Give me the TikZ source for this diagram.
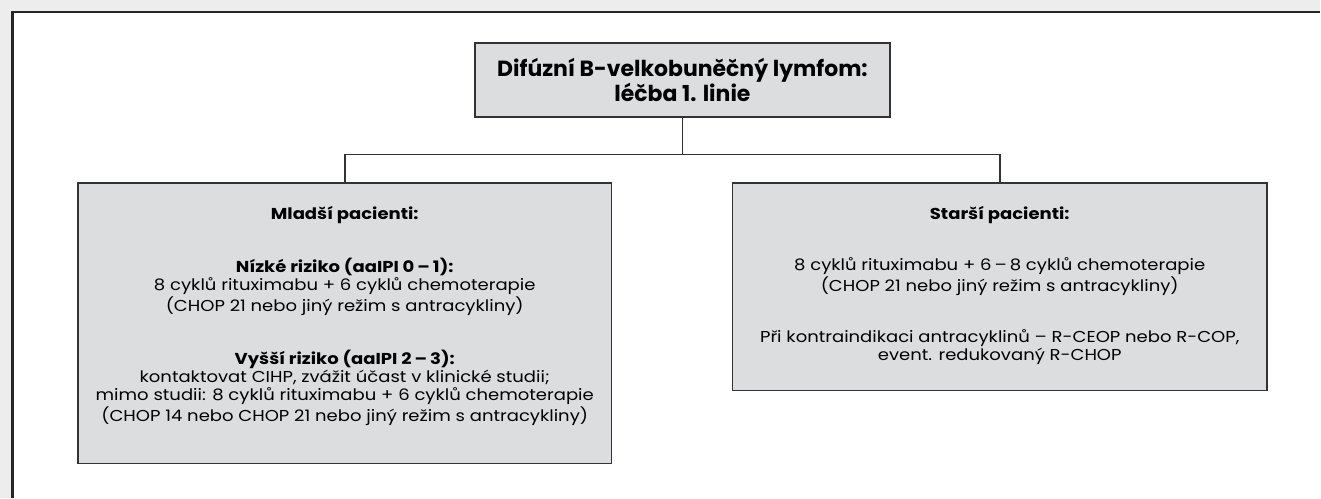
\documentclass[tikz,border=0pt]{standalone}
\usepackage{fontspec}
\setmainfont{Poppins}
\usetikzlibrary{positioning}
\definecolor{boxgray}{HTML}{DCDDDF}
\definecolor{pagegray}{HTML}{EDEDED}

\begin{document}
\begin{tikzpicture}[
  box/.style={rectangle,draw=black!80,line width=0.9pt,fill=boxgray,inner sep=0pt},
  stretchx/.style={xscale=#1,transform shape},
  boxtext/.style={align=center,inner sep=0pt,stretchx=1.14,font=\fontsize{9}{10.24}\selectfont},
  titletext/.style={align=center,inner sep=0pt,font=\bfseries\fontsize{12.5}{13.2}\selectfont},
  link/.style={draw=black!80,line width=0.9pt},
]
% page and frame
\fill[pagegray] (0,0) rectangle (26.42,-9.96);
\fill[white] (0.25,-0.24) rectangle (26.42,-9.96);
\draw[black!85,line width=1.2pt] (0.25,-9.96) -- (0.25,-0.24) -- (26.42,-0.24);

\begin{scope}[every node/.style={box}]
    \node [minimum width=8.30cm,minimum height=1.48cm] (title) at (13.66,-1.60) {};
    \node [minimum width=10.68cm,minimum height=5.62cm] (young) at (6.90,-6.47) {};
    \node [minimum width=10.70cm,minimum height=4.16cm] (old) at (20.01,-5.74) {};
\end{scope}

\node [titletext] (titlelabel) at (title.center)
    {Difúzní B-velkobuněčný lymfom:\\ léčba 1. linie};
\node [boxtext,below=0.48cm of young.north] (youngtext) {%
    \textbf{Mladší pacienti:}\\[18.8pt]
    \textbf{Nízké riziko (aaIPI 0\,–\,1):}\\
    8 cyklů rituximabu + 6 cyklů chemoterapie\\
    (CHOP 21 nebo jiný režim s antracykliny)\\[18.8pt]
    \textbf{Vyšší riziko (aaIPI 2\,–\,3):}\\
    kontaktovat CIHP, zvážit účast v klinické studii;\\
    mimo studii: 8 cyklů rituximabu + 6 cyklů chemoterapie\\
    (CHOP 14 nebo CHOP 21 nebo jiný režim s antracykliny)};
\node [boxtext,below=0.48cm of old.north] (oldtext) {%
    \textbf{Starší pacienti:}\\[18.8pt]
    8 cyklů rituximabu + 6\,–\,8 cyklů chemoterapie\\
    (CHOP 21 nebo jiný režim s antracykliny)\\[18.8pt]
    Při kontraindikaci antracyklinů – R-CEOP nebo R-COP,\\
    event. redukovaný R-CHOP};

\draw [link] (title.south) -- ++(0,-0.74) coordinate (split);
\draw [link] (young.north) |- (split) -| (old.north);
\end{tikzpicture}
\end{document}
